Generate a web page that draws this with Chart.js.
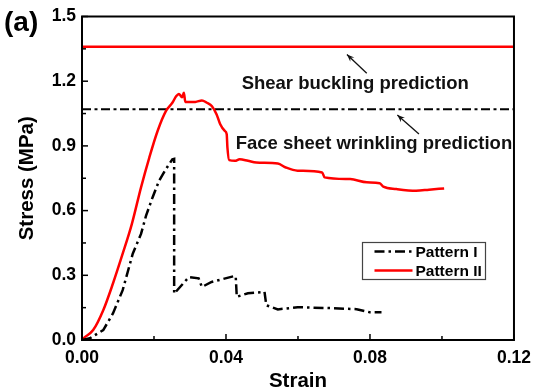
<!DOCTYPE html>
<html><head><meta charset="utf-8">
<script src="https://cdn.jsdelivr.net/npm/chart.js@4/dist/chart.umd.min.js"></script>
<style>html,body{margin:0;padding:0;background:#fff}#wrap{width:539px;height:392px}</style>
</head><body><div id="wrap"><canvas id="c" width="539" height="392"></canvas></div>
<script>
// ---- data ----
const seriesLabels = ['Pattern I', 'Pattern II'];
const strainI = [0, 0.0022, 0.0059, 0.0086, 0.0113, 0.0141, 0.0164, 0.0178, 0.0196, 0.0214, 0.0233, 0.0251, 0.0256, 0.0256, 0.0297, 0.0324, 0.0333, 0.0360, 0.0420, 0.0427, 0.0430, 0.0461, 0.0507, 0.0512, 0.0544, 0.0599, 0.0690, 0.0763, 0.0799, 0.0832];
const stressI = [0, 0.008, 0.046, 0.123, 0.231, 0.400, 0.492, 0.577, 0.661, 0.738, 0.792, 0.838, 0.840, 0.215, 0.292, 0.286, 0.246, 0.269, 0.295, 0.295, 0.200, 0.217, 0.223, 0.161, 0.142, 0.152, 0.148, 0.143, 0.129, 0.129];
const strainII = [0, 0.0004, 0.0031, 0.0059, 0.0086, 0.0113, 0.0138, 0.0164, 0.0187, 0.0210, 0.0233, 0.0251, 0.0262, 0.0269, 0.0278, 0.0283, 0.0287, 0.0315, 0.0333, 0.0347, 0.0361, 0.0374, 0.0384, 0.0397, 0.0402, 0.0404, 0.0409, 0.0425, 0.0438, 0.0461, 0.0484, 0.0544, 0.0566, 0.0599, 0.0667, 0.0674, 0.0745, 0.0791, 0.0827, 0.0837, 0.0873, 0.0928, 0.0964, 0.1006];
const stressII = [0, 0.008, 0.046, 0.138, 0.262, 0.400, 0.535, 0.708, 0.846, 0.969, 1.061, 1.100, 1.131, 1.141, 1.126, 1.146, 1.104, 1.104, 1.111, 1.100, 1.084, 1.046, 1.000, 0.969, 0.954, 0.892, 0.834, 0.831, 0.838, 0.831, 0.823, 0.818, 0.800, 0.785, 0.777, 0.754, 0.746, 0.731, 0.727, 0.711, 0.700, 0.692, 0.697, 0.703];
const shearBucklingPrediction = 1.36;
const faceWrinklingPrediction = 1.07;
const xTicks = [0, 0.04, 0.08, 0.12];
const yTicks = [0, 0.3, 0.6, 0.9, 1.2, 1.5];
const xMinorStep = 0.02, yMinorStep = 0.15;
const annotations = [
  {text: 'Shear buckling prediction', tx: 0.0759, ty: 1.186, from: [0.0791, 1.237], to: [0.0736, 1.324]},
  {text: 'Face sheet wrinkling prediction', tx: 0.0811, ty: 0.909, from: [0.0936, 0.955], to: [0.0876, 1.043]}
];

const FONT = '"Liberation Sans", Arial, Helvetica, sans-serif';
const pts = (xs, ys) => xs.map((v, i) => ({x: v, y: ys[i]}));
const xMax = xTicks[xTicks.length - 1], yMax = yTicks[yTicks.length - 1];

const frame = {
  id: 'frame',
  afterDatasetsDraw(chart) {
    const {ctx, chartArea: a, scales: {x, y}} = chart;
    ctx.save();
    const seg = (x1, y1, x2, y2) => { ctx.beginPath(); ctx.moveTo(x1, y1); ctx.lineTo(x2, y2); ctx.stroke(); };
    ctx.strokeStyle = '#000'; ctx.lineWidth = 1.5; ctx.setLineDash([]);
    const nx = Math.round(xMax / xMinorStep);
    for (let i = 0; i <= nx; i++) {
      const px = x.getPixelForValue(i * xMinorStep);
      seg(px, a.bottom, px, a.bottom - (i % 2 === 0 ? 6 : 4));
    }
    const ny = Math.round(yMax / yMinorStep);
    for (let i = 0; i <= ny; i++) {
      const py = y.getPixelForValue(i * yMinorStep);
      seg(a.left, py, a.left + (i % 2 === 0 ? 6 : 4), py);
    }
    ctx.lineWidth = 2;
    ctx.strokeRect(a.left, a.top, a.right - a.left, a.bottom - a.top);

    // annotations
    ctx.fillStyle = '#111'; ctx.font = 'bold 18.5px ' + FONT;
    ctx.textAlign = 'center'; ctx.textBaseline = 'middle';
    annotations.forEach(an => {
      ctx.fillText(an.text, x.getPixelForValue(an.tx), y.getPixelForValue(an.ty));
      const x1 = x.getPixelForValue(an.from[0]), y1 = y.getPixelForValue(an.from[1]);
      const x2 = x.getPixelForValue(an.to[0]), y2 = y.getPixelForValue(an.to[1]);
      ctx.lineWidth = 1.3; ctx.strokeStyle = '#111';
      seg(x1, y1, x2, y2);
      const ang = Math.atan2(y2 - y1, x2 - x1), L = 8, W = 0.38;
      ctx.beginPath();
      ctx.moveTo(x2, y2);
      ctx.lineTo(x2 - L * Math.cos(ang - W), y2 - L * Math.sin(ang - W));
      ctx.lineTo(x2 - L * 0.6 * Math.cos(ang), y2 - L * 0.6 * Math.sin(ang));
      ctx.lineTo(x2 - L * Math.cos(ang + W), y2 - L * Math.sin(ang + W));
      ctx.closePath(); ctx.fill();
    });

    // legend
    const lx = 362.5, ly = 242.5, lw = 123, lh = 37;
    ctx.fillStyle = '#fff'; ctx.fillRect(lx, ly, lw, lh);
    ctx.strokeStyle = '#444'; ctx.lineWidth = 1.2; ctx.strokeRect(lx, ly, lw, lh);
    const ds = chart.data.datasets;
    [0, 1].forEach(k => {
      const cy = ly + 9 + k * 19;
      ctx.strokeStyle = ds[k].borderColor; ctx.lineWidth = 2.5;
      ctx.setLineDash(ds[k].borderDash || []);
      seg(lx + 12, cy, lx + 50, cy);
      ctx.setLineDash([]);
      ctx.fillStyle = '#000'; ctx.font = 'bold 15.5px ' + FONT;
      ctx.textAlign = 'left'; ctx.textBaseline = 'middle';
      ctx.fillText(ds[k].label, lx + 53, cy + 1);
    });

    // panel label
    ctx.fillStyle = '#000'; ctx.font = 'bold 28px ' + FONT;
    ctx.textAlign = 'left'; ctx.textBaseline = 'middle';
    ctx.fillText('(a)', 4, 23);
    ctx.restore();
  }
};

new Chart(document.getElementById('c'), {
  type: 'line',
  data: {
    datasets: [
      {label: seriesLabels[0], data: pts(strainI, stressI), borderColor: '#000', borderWidth: 2.5, borderDash: [10, 4, 2.5, 4], pointRadius: 0, tension: 0, fill: false},
      {label: seriesLabels[1], data: pts(strainII, stressII), borderColor: '#ff0000', borderWidth: 2.5, pointRadius: 0, cubicInterpolationMode: 'monotone', fill: false},
      {label: 'Shear buckling prediction', data: [{x: 0, y: shearBucklingPrediction}, {x: xMax, y: shearBucklingPrediction}], borderColor: '#ff0000', borderWidth: 2.5, pointRadius: 0, fill: false},
      {label: 'Face sheet wrinkling prediction', data: [{x: 0, y: faceWrinklingPrediction}, {x: xMax, y: faceWrinklingPrediction}], borderColor: '#000', borderWidth: 2, borderDash: [9, 3.5, 3, 3.5], pointRadius: 0, fill: false}
    ]
  },
  options: {
    responsive: false, animation: false, devicePixelRatio: 1,
    layout: {padding: {top: 16, right: 20, left: 0, bottom: 0}},
    plugins: {legend: {display: false}, tooltip: {enabled: false}},
    scales: {
      x: {
        type: 'linear', min: 0, max: xMax,
        afterBuildTicks: s => { s.ticks = xTicks.map(v => ({value: v})); },
        afterFit: s => { s.height = 52; },
        grid: {display: false, drawTicks: false}, border: {display: false},
        ticks: {padding: 8, color: '#000', font: {family: FONT, weight: 'bold', size: 17.5}, callback: v => Number(v).toFixed(2), maxRotation: 0},
        title: {display: true, text: 'Strain', color: '#000', padding: {top: 0, bottom: 0}, font: {family: FONT, weight: 'bold', size: 20.5, lineHeight: 1}}
      },
      y: {
        type: 'linear', min: 0, max: yMax,
        afterBuildTicks: s => { s.ticks = yTicks.map(v => ({value: v})); },
        afterFit: s => { s.width = 82; },
        grid: {display: false, drawTicks: false}, border: {display: false},
        ticks: {padding: 6, color: '#000', font: {family: FONT, weight: 'bold', size: 17.5}, callback: v => Number(v).toFixed(1)},
        title: {display: true, text: 'Stress (MPa)', color: '#000', padding: {top: 17, bottom: 0}, font: {family: FONT, weight: 'bold', size: 20.5, lineHeight: 1}}
      }
    }
  },
  plugins: [frame]
});
</script></body></html>
